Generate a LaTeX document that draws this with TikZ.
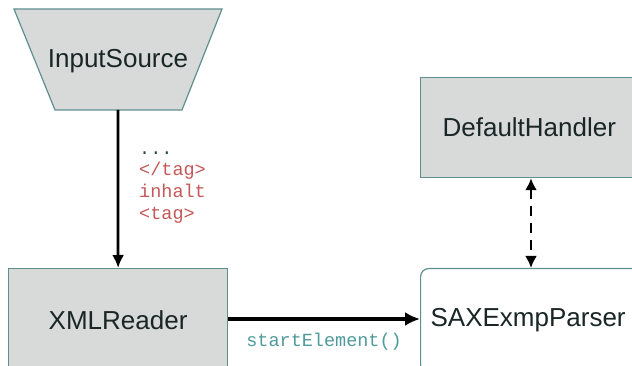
\documentclass[tikz,border=0pt]{standalone}
\usepackage{fontspec}
\setmainfont{Liberation Sans}
\newfontfamily\codefont{Liberation Mono}
\usetikzlibrary{arrows.meta}

\definecolor{boxfill}{HTML}{D8D9D9}
\definecolor{boxedge}{HTML}{5F8F8E}
\definecolor{labeltext}{HTML}{1A2626}
\definecolor{tagred}{HTML}{C45858}
\definecolor{callteal}{HTML}{4F9A9A}
\definecolor{dotsdark}{HTML}{2E4A4A}

\tikzset{
  graybox/.style={draw=boxedge, line width=1.2pt, fill=boxfill, text=labeltext,
    font=\fontsize{26}{30}\selectfont},
  whitebox/.style={draw=boxedge, line width=1.2pt, fill=white, text=labeltext,
    rounded corners=8pt, font=\fontsize{26}{30}\selectfont},
  code/.style={font=\codefont\fontsize{18.5}{22}\selectfont, inner sep=0pt},
  flow/.style={draw=black, line width=2.8pt, -{Latex[length=13pt,width=12pt]}},
  call/.style={draw=black, line width=3.4pt, -{Latex[length=15pt,width=14pt]}},
  link/.style={draw=black, line width=2.6pt, dash pattern=on 10pt off 7pt,
    {Latex[length=12pt,width=12pt]}-{Latex[length=12pt,width=12pt]}},
}

\begin{document}
\begin{tikzpicture}[x=1pt, y=-1pt]
  \useasboundingbox (0,0) rectangle (632,366);
  \clip (0,0) rectangle (632,366);

  % input source: inverted trapezium
  \draw[graybox] (14,9) -- (222,9) -- (182,110) -- (55,110) -- cycle;
  \node[text=labeltext, font=\fontsize{26}{30}\selectfont] (src) at (118,61) {InputSource};
  \coordinate (srcbottom) at (118,110);

  % reader
  \node[graybox, anchor=north west, minimum width=219pt, minimum height=104pt,
        inner sep=0pt] (reader) at (8,268) {XMLReader};

  % parser, running off the right edge
  \node[whitebox, anchor=north west, text width=240pt, align=left,
        inner xsep=10pt, minimum height=104pt] (parser) at (420,268) {SAXExmpParser};

  % handler, running off the right edge
  \node[graybox, anchor=north west, text width=240pt, align=left,
        inner xsep=22pt, minimum height=100pt] (handler) at (420,77) {DefaultHandler};

  % stream of the document towards the reader
  \draw[flow] (srcbottom) -- (reader.north);
  \node[code, text=dotsdark, anchor=base west] (dots) at (139,155) {...};
  \node[code, text=tagred, anchor=base west] (closetag) at (139,176) {</tag>};
  \node[code, text=tagred, anchor=base west] (content) at (139,198) {inhalt};
  \node[code, text=tagred, anchor=base west] (opentag) at (139,220) {<tag>};

  % callback from reader to parser
  \draw[call] (reader.east |- 0,319) -- (parser.west |- 0,319)
    node[code, text=callteal, midway, anchor=base, yshift=-27pt] (callname) {startElement()};

  % parser <-> handler
  \coordinate (linkx) at (531,0);
  \draw[link] (handler.south -| linkx) -- (parser.north -| linkx);
\end{tikzpicture}
\end{document}
